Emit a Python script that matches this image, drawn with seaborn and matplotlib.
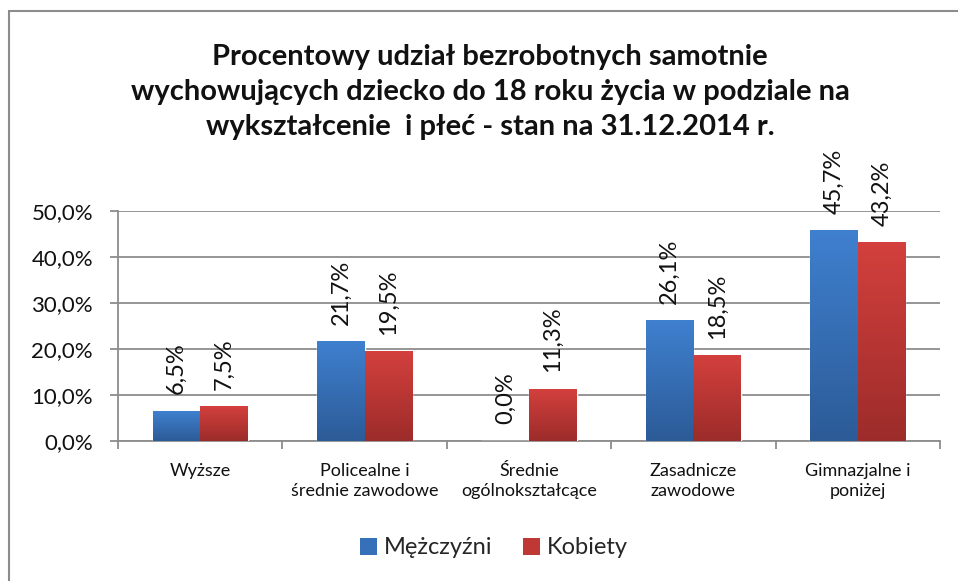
import numpy as np
import pandas as pd
import matplotlib
matplotlib.use("Agg")
import matplotlib.pyplot as plt
from matplotlib.patches import Patch
from matplotlib.ticker import FuncFormatter, FixedLocator
from matplotlib.colors import to_rgb
import seaborn as sns

categories = ["Wyższe", "Policealne i\nśrednie zawodowe", "Średnie\nogólnokształcące",
              "Zasadnicze\nzawodowe", "Gimnazjalne i\nponiżej"]
men = [6.5, 21.7, 0.0, 26.1, 45.7]
women = [7.5, 19.5, 11.3, 18.5, 43.2]
series = ["Mężczyźni", "Kobiety"]
title = ("Procentowy udział bezrobotnych samotnie\n"
         "wychowujących dziecko do 18 roku życia w podziale na\n"
         "wykształcenie  i płeć - stan na 31.12.2014 r.")

df = pd.DataFrame({
    "kat": categories * 2,
    "seria": [series[0]] * len(categories) + [series[1]] * len(categories),
    "val": men + women,
})

sns.set_theme(style="white")
plt.rcParams["font.family"] = ["Lato", "DejaVu Sans"]

top_cols = {"Mężczyźni": "#3f80cf", "Kobiety": "#d3403d"}
bot_cols = {"Mężczyźni": "#2c5b97", "Kobiety": "#9c2c2a"}
mid_cols = {"Mężczyźni": "#3670b8", "Kobiety": "#bf3835"}

fig = plt.figure(figsize=(9.58, 5.81), dpi=100)
ax = fig.add_axes([118 / 958, 1 - 441 / 581, 822 / 958, 230 / 581])

sns.barplot(data=df, x="kat", y="val", hue="seria", hue_order=series,
            order=categories, palette=mid_cols, width=0.58, ax=ax,
            legend=False, errorbar=None, zorder=3)


def fmt(v):
    return f"{v:.1f}%".replace(".", ",")


# vertical gradient fill for each bar, plus rotated value labels
bars = list(ax.patches)
for i, p in enumerate(bars):
    s = series[i // len(categories)]
    vals = men if s == series[0] else women
    v = vals[i % len(categories)]
    x, w, h = p.get_x(), p.get_width(), p.get_height()
    if h > 0:
        t = np.linspace(0, 1, 256)[:, None]
        c0, c1 = np.array(to_rgb(top_cols[s])), np.array(to_rgb(bot_cols[s]))
        img = (c0 * (1 - t) + c1 * t)[:, None, :]
        ax.imshow(img, extent=[x, x + w, 0, h], aspect="auto", zorder=3.5,
                  interpolation="bilinear")
    ax.annotate(fmt(v), (x + w / 2, v), xytext=(0, 12), textcoords="offset points",
                rotation=90, ha="center", va="bottom", fontsize=17, color="#111111")

ax.set_xlim(-0.5, len(categories) - 0.5)
ax.set_ylim(0, 50)
ax.yaxis.set_major_locator(FixedLocator([0, 10, 20, 30, 40, 50]))
ax.yaxis.set_major_formatter(FuncFormatter(lambda v, _: fmt(v)))
ax.grid(axis="y", color="#8c8c8c", linewidth=1.3, zorder=0)
ax.set_axisbelow(True)
ax.set_xlabel("")
ax.set_ylabel("")

for side in ["top", "right"]:
    ax.spines[side].set_visible(False)
for side in ["left", "bottom"]:
    ax.spines[side].set_color("#8c8c8c")
    ax.spines[side].set_linewidth(1.3)

ax.tick_params(axis="y", which="major", left=True, length=6, width=1.3,
               color="#8c8c8c", labelsize=16, labelcolor="#111111", pad=12)
ax.set_xticks(range(len(categories)))
ax.set_xticklabels(categories, fontsize=13, color="#111111", linespacing=1.3)
ax.tick_params(axis="x", which="major", bottom=False, pad=10)
ax.set_xticks(np.arange(-0.5, len(categories)), minor=True)
ax.tick_params(axis="x", which="minor", bottom=True, length=6, width=1.3,
               color="#8c8c8c")

fig.text(490 / 958, 1 - 92 / 581, title, ha="center", va="center",
         fontsize=21, fontweight="bold", linespacing=1.42, color="#111111")

handles = [Patch(facecolor=mid_cols[s], edgecolor="none", label=s) for s in series]
fig.legend(handles=handles, loc="center", bbox_to_anchor=(494 / 958, 1 - 548 / 581),
           ncol=2, frameon=False, fontsize=17, handlelength=0.7, handleheight=0.7,
           handletextpad=0.3, columnspacing=1.3)

# chart area frame, top and left edges
fig.add_artist(plt.Line2D([9 / 958, 1], [1 - 11 / 581] * 2, color="#8c8c8c", lw=1.5,
                          transform=fig.transFigure))
fig.add_artist(plt.Line2D([9 / 958] * 2, [0, 1 - 11 / 581], color="#8c8c8c", lw=1.5,
                          transform=fig.transFigure))

fig.savefig("out.png", dpi=100, facecolor="white")
